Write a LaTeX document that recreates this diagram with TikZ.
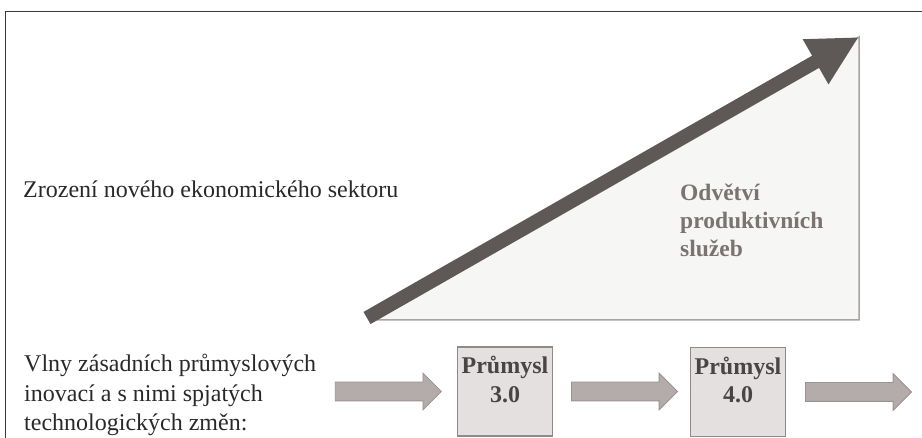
\documentclass[tikz,border=0pt]{standalone}
\usepackage{fontspec}
\setmainfont{Liberation Serif}
\usetikzlibrary{arrows.meta,positioning,shapes.arrows}

\definecolor{framecol}{HTML}{3A3A3A}
\definecolor{inkcol}{HTML}{2B2828}
\definecolor{trifill}{HTML}{F6F6F5}
\definecolor{triline}{HTML}{A9A4A3}
\definecolor{bigarrow}{HTML}{5E5856}
\definecolor{sectortxt}{HTML}{7A7371}
\definecolor{boxfill}{HTML}{E3E0DF}
\definecolor{boxline}{HTML}{8F8A89}
\definecolor{boxtxt}{HTML}{4A4545}
\definecolor{waveFill}{HTML}{B3ACAA}
\definecolor{waveLine}{HTML}{9A9391}

\tikzset{
  plaintext/.style={anchor=north west,inner sep=0pt,align=left,text=inkcol,
    font=\fontsize{24}{29.5}\selectfont},
  sector/.style={anchor=north west,inner sep=0pt,align=left,text=sectortxt,
    font=\fontsize{23.5}{28}\selectfont\bfseries},
  indbox/.style={draw=boxline,fill=boxfill,line width=1.2pt,inner sep=0pt,
    minimum width=95pt,minimum height=89pt},
  indtext/.style={inner sep=0pt,align=center,text=boxtxt,
    font=\fontsize{24}{28.5}\selectfont\bfseries},
  wave/.style={single arrow,draw=waveLine,fill=waveFill,line width=0.8pt,
    inner xsep=0pt,inner ysep=9pt,single arrow head extend=9pt,
    minimum height=106pt}
}

\begin{document}
\begin{tikzpicture}[x=1pt,y=-1pt]
  \useasboundingbox (0,0) rectangle (922,438);
  \draw[framecol,line width=0.9pt] (922,11) -- (5,11) -- (5,438);

  % sector triangle with growth arrow
  \coordinate (tl) at (372,320);
  \coordinate (tr) at (859,320);
  \coordinate (tt) at (859,37);
  \filldraw[fill=trifill,draw=triline,line width=1.5pt] (tl) -- (tr) -- (tt) -- cycle;
  \coordinate (gs) at (367,318);
  \coordinate (ge) at (859,37);
  \draw[bigarrow,line width=14pt,-{Triangle[length=50pt,width=48pt]}] (gs) -- (ge);

  \node[plaintext,anchor=base west] (birth) at (23,198) {Zrození nového ekonomického sektoru};
  \node[sector] (prod) at (680,184) {Odvětví\\produktivních\\služeb};

  % waves of innovation
  \node[plaintext] (waves) at (24,354) {Vlny zásadních průmyslových\\inovací a s nimi spjatých\\technologických změn:};

  \node[indbox] (p3) at (505,391.5) {};
  \node[indtext,below=10pt of p3.north] (p3t) {Průmysl\\3.0};
  \node[indbox] (p4) at (738,392) {};
  \node[indtext,below=10pt of p4.north] (p4t) {Průmysl\\4.0};

  \node[wave,left=15pt of p3] (w1) {};
  \node[wave,right=18pt of p3] (w2) {};
  \node[wave,right=19pt of p4] (w3) {};
\end{tikzpicture}
\end{document}
